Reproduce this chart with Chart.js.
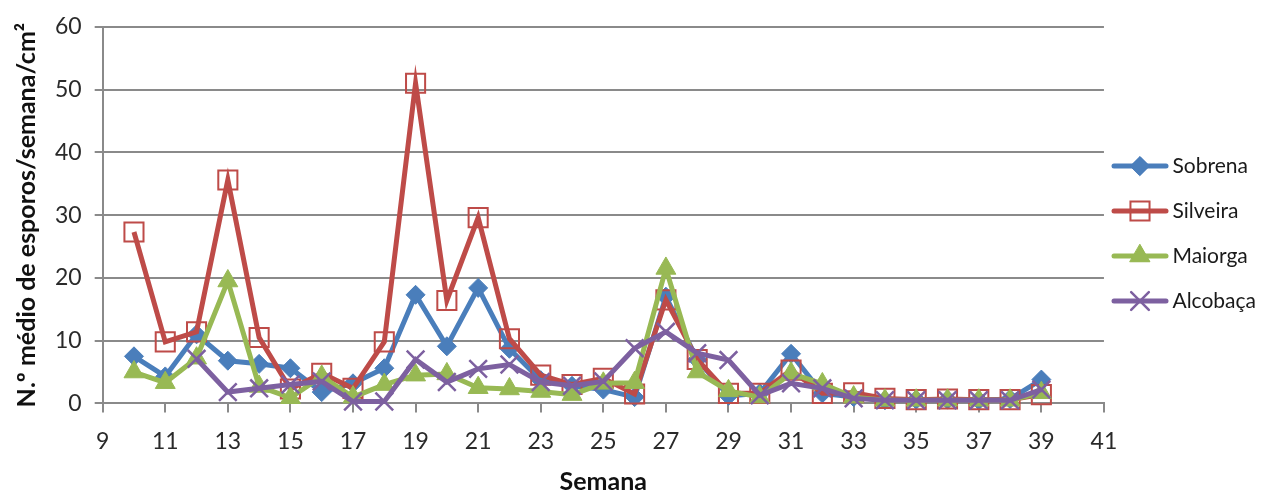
<!DOCTYPE html>
<html>
<head>
<meta charset="utf-8">
<script src="https://cdn.jsdelivr.net/npm/chart.js@4.4.0/dist/chart.umd.min.js"></script>
<style>
  html, body { margin: 0; padding: 0; background: #fff; }
  #wrap { width: 1284px; height: 490px; }
</style>
</head>
<body>
<div id="wrap"><canvas id="grafico" width="1284" height="490"></canvas></div>
<script>
// semanas e valores
var semanas = [10, 11, 12, 13, 14, 15, 16, 17, 18, 19, 20, 21, 22, 23, 24, 25, 26, 27, 28, 29, 30, 31, 32, 33, 34, 35, 36, 37, 38, 39]
var sobrena = [7.5, 4.3, 11, 6.8, 6.3, 5.6, 1.8, 3.2, 5.6, 17.3, 9.1, 18.4, 8.7, 3.7, 2.8, 2.2, 1.0, 17, 7, 1.2, 1.6, 7.9, 1.6, 1.0, 0.5, 0.6, 0.6, 0.5, 0.7, 3.8]
var silveira = [27.3, 9.8, 11.4, 35.6, 10.5, 2.3, 4.8, 2.4, 9.8, 51, 16.4, 29.6, 10.3, 4.5, 3.0, 4.0, 1.5, 16.5, 7, 1.6, 1.6, 5.3, 1.6, 1.7, 0.8, 0.6, 0.7, 0.6, 0.6, 1.4]
var maiorga = [5, 3.3, 7.2, 19.5, 2.7, 0.9, 4.3, 1.0, 3.0, 4.5, 4.7, 2.5, 2.3, 1.9, 1.4, 3.2, 3.3, 21.5, 5, 2.0, 1.0, 4.8, 3.1, 1.0, 0.5, 0.5, 0.5, 0.5, 0.5, 1.7]
var alcobaca = [null, null, 7.1, 1.8, 2.4, 3.0, 3.5, 0.3, 0.3, 7, 3.4, 5.5, 6.2, 3.4, 2.8, 3.5, 8.8, 11.4, 8, 6.9, 1.3, 3.2, 2.4, 0.8, 0.5, 0.5, 0.5, 0.5, 0.5, 2.2]

var xTicks = [9, 11, 13, 15, 17, 19, 21, 23, 25, 27, 29, 31, 33, 35, 37, 39, 41]
var yTicks = [0, 10, 20, 30, 40, 50, 60]

var cores = {
  sobrena: '#4A7EBB',
  silveira: '#BE4B48',
  maiorga: '#98B954',
  alcobaca: '#7D60A0'
}

function pontos(valores) {
  var out = []
  for (var i = 0; i < semanas.length; i++) {
    out.push({ x: semanas[i], y: valores[i] })
  }
  return out
}

// desenha a amostra da legenda: linha com o marcador no meio
function amostra(cor, estilo, raio, fundo, espessura) {
  var c = document.createElement('canvas')
  c.width = 58
  c.height = 28
  var ctx = c.getContext('2d')
  ctx.strokeStyle = cor
  ctx.lineWidth = 5
  ctx.lineCap = 'round'
  ctx.beginPath()
  ctx.moveTo(3, 14)
  ctx.lineTo(55, 14)
  ctx.stroke()
  ctx.fillStyle = fundo
  ctx.strokeStyle = cor
  ctx.lineWidth = espessura
  Chart.helpers.drawPoint(ctx, { pointStyle: estilo, radius: raio, rotation: 0, borderWidth: espessura }, 29, 14)
  ctx.fill()
  return c
}

function serie(nome, valores, cor, estilo, raio, fundo, espessura, ordem) {
  return {
    label: nome,
    data: pontos(valores),
    borderColor: cor,
    backgroundColor: cor,
    borderWidth: 5,
    pointStyle: estilo,
    pointRadius: raio,
    pointHoverRadius: raio,
    pointBackgroundColor: fundo,
    pointBorderColor: cor,
    pointBorderWidth: espessura,
    tension: 0,
    clip: false,
    order: ordem,
    legendImg: amostra(cor, estilo, raio, fundo, espessura)
  }
}

// sobe a legenda e encosta-a ao grafico como no original
var moverLegenda = {
  id: 'moverLegenda',
  afterLayout: function (chart) {
    var l = chart.legend
    l.top -= 22
    l.bottom -= 22
    l.left -= 10
    l.right -= 10
  }
}

var myChart = new Chart(document.getElementById('grafico'), {
  type: 'line',
  data: {
    datasets: [
      serie('Sobrena', sobrena, cores.sobrena, 'rectRot', 9.5, cores.sobrena, 1, 4),
      serie('Silveira', silveira, cores.silveira, 'rect', 13.5, 'rgba(255,255,255,0)', 2, 3),
      serie('Maiorga', maiorga, cores.maiorga, 'triangle', 11.5, cores.maiorga, 1, 2),
      serie('Alcobaça', alcobaca, cores.alcobaca, 'crossRot', 12.5, cores.alcobaca, 2.5, 1)
    ]
  },
  plugins: [moverLegenda],
  options: {
    responsive: false,
    animation: false,
    devicePixelRatio: 1,
    layout: {
      padding: { left: 8, right: 8, top: 21, bottom: 0 }
    },
    plugins: {
      tooltip: { enabled: false },
      legend: {
        position: 'right',
        align: 'center',
        labels: {
          usePointStyle: true,
          pointStyleWidth: 44,
          padding: 24,
          color: '#1a1a1a',
          font: { family: 'Lato', size: 21 },
          sort: function (a, b) { return a.datasetIndex - b.datasetIndex },
          generateLabels: function (chart) {
            return chart.data.datasets.map(function (ds, i) {
              return {
                text: ds.label,
                datasetIndex: i,
                pointStyle: ds.legendImg,
                fillStyle: ds.borderColor,
                strokeStyle: ds.borderColor,
                lineWidth: 0,
                fontColor: '#1a1a1a',
                hidden: false
              }
            })
          }
        }
      }
    },
    scales: {
      x: {
        type: 'linear',
        min: 9,
        max: 41,
        afterBuildTicks: function (axis) {
          axis.ticks = xTicks.map(function (v) { return { value: v } })
        },
        ticks: {
          color: '#2a2a2a',
          padding: 15,
          font: { family: 'Lato', size: 23 },
          maxRotation: 0,
          autoSkip: false
        },
        grid: {
          drawOnChartArea: false,
          drawTicks: true,
          tickLength: 9,
          color: '#8a8a8a',
          lineWidth: 2
        },
        border: { color: '#8a8a8a', width: 2 },
        title: {
          display: true,
          text: 'Semana',
          color: '#111',
          font: { family: 'Lato', size: 25, weight: 'bold' },
          padding: { top: -3, bottom: -7 }
        }
      },
      y: {
        min: 0,
        max: 60,
        afterBuildTicks: function (axis) {
          axis.ticks = yTicks.map(function (v) { return { value: v } })
        },
        ticks: {
          color: '#2a2a2a',
          padding: 13,
          font: { family: 'Lato', size: 23 }
        },
        grid: {
          color: '#8a8a8a',
          lineWidth: 2,
          tickLength: 8
        },
        border: { color: '#8a8a8a', width: 2 },
        title: {
          display: true,
          text: 'N.º médio de esporos/semana/cm²',
          color: '#111',
          font: { family: 'Lato', size: 25, weight: 'bold' },
          padding: { top: 4, bottom: 0 }
        }
      }
    }
  }
})
</script>
</body>
</html>
